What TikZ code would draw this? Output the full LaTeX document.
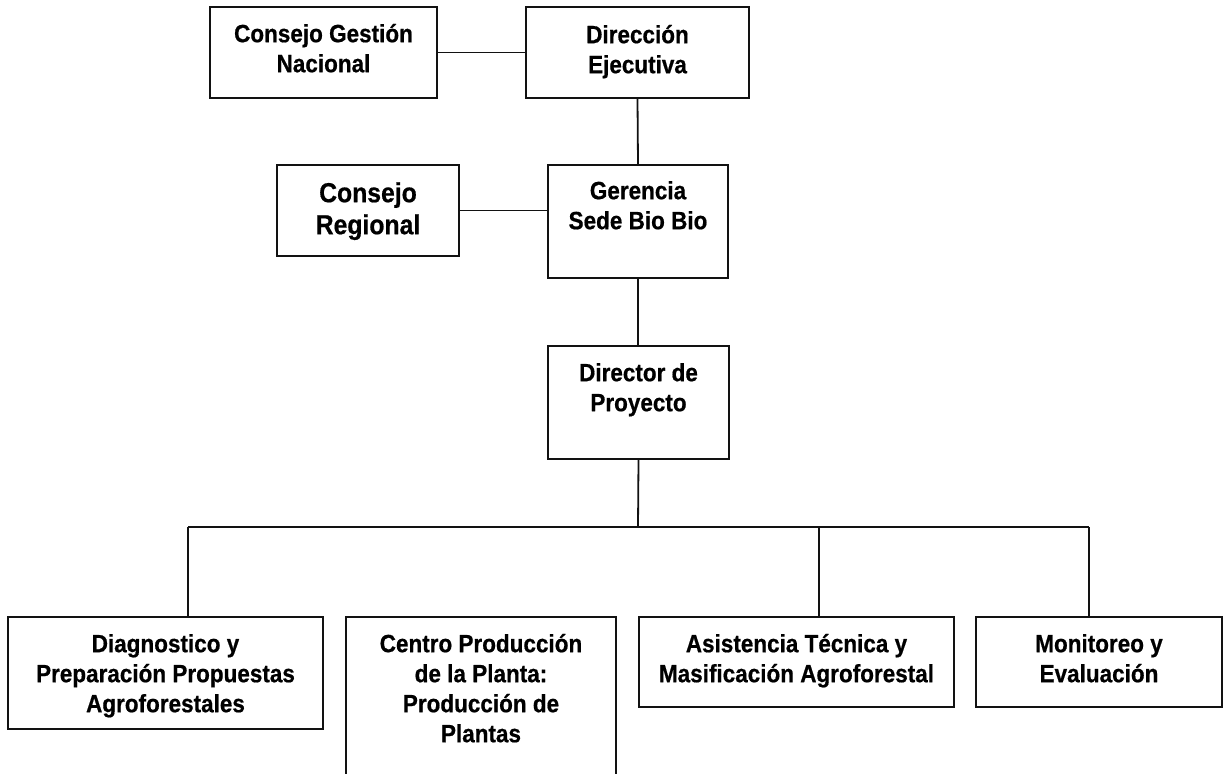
\documentclass[tikz,border=0pt]{standalone}
\usepackage{fontspec}
\setmainfont{Liberation Sans}[FakeStretch=0.9, BoldFeatures={FakeBold=0.6}]
\begin{document}
\begin{tikzpicture}[x=1pt,y=-1pt,
  box/.style={draw=black!93, line width=2pt, rectangle, inner sep=0pt, fill=white},
  conn/.style={draw=black!93, line width=1.8pt},
  txt/.style={inner sep=0pt, align=center, font=\fontsize{25}{30}\selectfont\bfseries, anchor=north},
  txtbig/.style={txt, font=\fontsize{27.5}{32}\selectfont\bfseries}]
\path[use as bounding box, clip] (0,0) rectangle (1224,774);
% boxes
\node[box, minimum width=227pt, minimum height=91pt] (cgn) at (323.5,52.5) {};
\node[box, minimum width=223pt, minimum height=91pt] (de) at (637.5,52.5) {};
\node[box, minimum width=182pt, minimum height=91pt] (cr) at (368,210.5) {};
\node[box, minimum width=180pt, minimum height=113pt] (ger) at (638,221.5) {};
\node[box, minimum width=181pt, minimum height=113pt] (dir) at (638.5,402.5) {};
\node[box, minimum width=315pt, minimum height=112pt] (diag) at (165.5,673) {};
\node[box, minimum width=270pt, minimum height=183pt] (centro) at (481,708.5) {};
\node[box, minimum width=315pt, minimum height=90pt] (asis) at (796.5,662) {};
\node[box, minimum width=246pt, minimum height=90pt] (mon) at (1099,662) {};
% texts
\node[txt] (cgnT) at ([yshift=-8pt]cgn.north) {\rule{0pt}{28pt}Consejo Gestión\\Nacional};
\node[txt] (deT) at ([yshift=-9pt]de.north) {\rule{0pt}{28pt}Dirección\\Ejecutiva};
\node[txtbig] (crT) at ([yshift=-8pt]cr.north) {\rule{0pt}{30pt}Consejo\\Regional};
\node[txt] (gerT) at ([yshift=-7pt]ger.north) {\rule{0pt}{28pt}Gerencia\\Sede Bio Bio};
\node[txt] (dirT) at ([yshift=-8pt]dir.north) {\rule{0pt}{28pt}Director de\\Proyecto};
\node[txt] (diagT) at ([yshift=-8pt]diag.north) {\rule{0pt}{28pt}Diagnostico y\\Preparación Propuestas\\Agroforestales};
\node[txt] (centroT) at ([yshift=-8pt]centro.north) {\rule{0pt}{28pt}Centro Producción\\de la Planta:\\Producción de\\Plantas};
\node[txt] (asisT) at ([yshift=-8pt]asis.north) {\rule{0pt}{28pt}Asistencia Técnica y\\Masificación Agroforestal};
\node[txt] (monT) at ([yshift=-8pt]mon.north) {\rule{0pt}{28pt}Monitoreo y\\Evaluación};
% junctions
\coordinate (j0) at (638,527);
\coordinate (j1) at (188,527);
\coordinate (j2) at (819,527);
\coordinate (j3) at (1089,527);
% connectors
\draw[conn] (cgn.east) -- (de.west);
\draw[conn] (de.south) -- (ger.north);
\draw[conn] (cr.east) -- (cr.east -| ger.west);
\draw[conn] (ger.south) -- (ger.south |- dir.north);
\draw[conn] (dir.south) -- (j0);
\draw[conn, line width=2pt] (j1) -- (j3);
\draw[conn] (j1) -- (j1 |- diag.north);
\draw[conn] (j2) -- (j2 |- asis.north);
\draw[conn] (j3) -- (j3 |- mon.north);
\end{tikzpicture}
\end{document}
